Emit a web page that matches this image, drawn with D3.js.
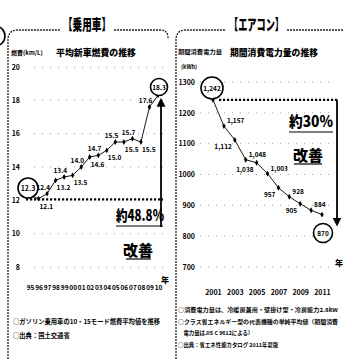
<!DOCTYPE html>
<html><head><meta charset="utf-8">
<script src="https://cdn.jsdelivr.net/npm/d3@7"></script>
<style>
body{margin:0;background:#fff}
svg{display:block}
text{font-family:"Noto Sans CJK JP","Noto Sans",sans-serif;fill:#000}
</style>
</head><body>
<svg id="chart" width="344" height="359"></svg>
<script>
// 乗用車：平均新車燃費（km/L）
const carYears = ["95","96","97","98","99","00","01","02","03","04","05","06","07","08","09","10"];
const carFuel  = [12.3,12.1,12.4,13.2,13.4,13.5,14.0,14.6,14.7,15.0,15.5,15.5,15.7,15.5,17.6,18.3];
const carTicks = [8,10,12,14,16,18,20];

// エアコン：期間消費電力量（kWh）
const acYears  = [2001,2002,2003,2004,2005,2006,2007,2008,2009,2010,2011];
const acPower  = [1242,1157,1112,1048,1038,1003,957,928,905,884,870];
const acTicks  = [700,800,900,1000,1100,1200,1300];
const acYearLabels = [2001,2003,2005,2007,2009,2011];

const carNotes = ["○ガソリン乗用車の10・15モード燃費平均値を推移","○出典：国土交通省"];
const acNotes  = ["○消費電力量は、冷暖房兼用・壁掛け型・冷房能力2.8kW","○クラス省エネルギー型の代表機種の単純平均値（期間消費","　電力量はJIS C 9612による）","○出典：省エネ性能カタログ 2011年夏版"];

const svg = d3.select("#chart");
const fmt = d3.format(",");

// arrow heads
const defs = svg.append("defs");
defs.append("marker").attr("id","arr").attr("viewBox","0 0 10 10")
  .attr("refX",5).attr("refY",5).attr("markerWidth",5).attr("markerHeight",5)
  .attr("orient","auto-start-reverse")
  .append("path").attr("d","M0,0L10,5L0,10z").attr("fill","#000");

// ---------- panel frames ----------
function frame(g, x0, x1, titleX0, titleX1, title){
  g.append("path")
    .attr("d",`M${x0},359 L${x0},40 Q${x0},30 ${x0+10},30 L${titleX0},30 M${titleX1},30 L${x1-8},30 Q${x1},30 ${x1},38`)
    .attr("fill","none").attr("stroke","#222").attr("stroke-width",1.3).attr("stroke-dasharray","2,1");
  g.append("text").attr("x",(titleX0+titleX1)/2).attr("y",30)
    .attr("text-anchor","middle").attr("font-size",15).attr("font-weight",900)
    .attr("textLength",titleX1-titleX0-6).attr("lengthAdjust","spacingAndGlyphs")
    .text(title);
}
frame(svg, 8, 168, 60, 114, "【乗用車】");
frame(svg, 176, 352, 226, 287, "【エアコン】");
svg.append("circle").attr("cx",-5).attr("cy",36).attr("r",10)
  .attr("fill","none").attr("stroke","#000").attr("stroke-width",1.6);

// ---------- 乗用車 ----------
const cx = d3.scalePoint().domain(carYears).range([30,158]);
const cy = d3.scaleLinear().domain([8,20]).range([267,67]);

svg.append("text").attr("x",11).attr("y",55).attr("font-size",6).attr("font-weight",700).text("燃費(km/L)");
svg.append("text").attr("x",56).attr("y",56).attr("font-size",9).attr("font-weight",900)
  .attr("textLength",80).attr("lengthAdjust","spacingAndGlyphs").text("平均新車燃費の推移");

const cg = svg.append("g");
cg.selectAll("line.grid").data(carTicks).join("line").attr("class","grid")
  .attr("x1",34).attr("x2",166).attr("y1",d=>cy(d)).attr("y2",d=>cy(d))
  .attr("stroke","#888").attr("stroke-width",0.8).attr("stroke-dasharray","1,7");
const cAxis = cg.append("g").attr("transform","translate(22,0)")
  .call(d3.axisLeft(cy).tickValues(carTicks).tickSize(0).tickPadding(2));
cAxis.select(".domain").remove();
cAxis.selectAll("text").attr("font-size",7).attr("font-weight",700);

const cxAxis = cg.append("g").attr("transform","translate(0,282)")
  .call(d3.axisBottom(cx).tickSize(0).tickPadding(3));
cxAxis.select(".domain").remove();
cxAxis.selectAll("text").attr("font-size",6.5).attr("font-weight",700);
cg.append("text").attr("x",161).attr("y",283).attr("font-size",8).attr("font-weight",900).text("年");

// reference line and arrow
const c0 = carFuel[0], cN = carFuel[carFuel.length-1];
cg.append("line").attr("x1",cx(carYears[0])-4).attr("x2",163).attr("y1",cy(c0)+4).attr("y2",cy(c0)+4)
  .attr("stroke","#000").attr("stroke-width",2.4).attr("stroke-dasharray","2.2,1.8");
cg.append("line").attr("x1",161).attr("x2",161).attr("y1",227).attr("y2",cy(cN)+7)
  .attr("stroke","#000").attr("stroke-width",1.8).attr("marker-end","url(#arr)");

cg.append("path").datum(carFuel)
  .attr("d",d3.line().x((d,i)=>cx(carYears[i])).y(d=>cy(d)))
  .attr("fill","none").attr("stroke","#000").attr("stroke-width",0.9);
cg.selectAll("path.mk").data(carFuel).join("path").attr("class","mk")
  .attr("transform",(d,i)=>`translate(${cx(carYears[i])},${cy(d)})`)
  .attr("d",d3.symbol(d3.symbolDiamond,10)).attr("fill","#000");

// value labels: odd points below-right, even points above-left
cg.selectAll("text.val").data(carFuel.slice(1,-1)).join("text").attr("class","val")
  .attr("x",(d,i)=>cx(carYears[i+1]) + ((i+1)%2 ? 1 : 3))
  .attr("y",(d,i)=>cy(d) + ((i+1)%2 ? 10 : -4))
  .attr("text-anchor",(d,i)=>(i+1)%2 ? "start" : "end")
  .attr("font-size",6.5).attr("font-weight",700).text(d=>d.toFixed(1));

// circled start / end values
cg.append("circle").attr("cx",28).attr("cy",188).attr("r",10).attr("fill","#fff").attr("stroke","#000").attr("stroke-width",1.6);
cg.append("text").attr("x",28).attr("y",190.5).attr("text-anchor","middle").attr("font-size",7).attr("font-weight",700).text(c0.toFixed(1));
cg.append("circle").attr("cx",159).attr("cy",87).attr("r",8.5).attr("fill","#fff").attr("stroke","#000").attr("stroke-width",1.6);
cg.append("text").attr("x",159).attr("y",89.5).attr("text-anchor","middle").attr("font-size",6.5).attr("font-weight",700).text(cN.toFixed(1));

const carRate = d3.format(".1%")(cN/c0-1);
cg.append("text").attr("x",116).attr("y",221).attr("font-size",15).attr("font-weight",900)
  .attr("textLength",48).attr("lengthAdjust","spacingAndGlyphs").text("約"+carRate);
cg.append("line").attr("x1",116).attr("x2",163).attr("y1",226).attr("y2",226).attr("stroke","#000").attr("stroke-width",1.2);
cg.append("text").attr("x",138).attr("y",256).attr("text-anchor","middle").attr("font-size",15).attr("font-weight",900).text("改善");
cg.append("line").attr("x1",126).attr("x2",151).attr("y1",259).attr("y2",259).attr("stroke","#000").attr("stroke-width",1.2);

cg.selectAll("text.note").data(carNotes).join("text").attr("class","note")
  .attr("x",13).attr("y",(d,i)=>324+i*14).attr("font-size",6.3).attr("font-weight",700).text(d=>d);

// ---------- エアコン ----------
const ax = d3.scaleLinear().domain([acYears[0],acYears[acYears.length-1]]).range([213,322]);
const ay = d3.scaleLinear().domain([700,1300]).range([267,82]);

svg.append("text").attr("x",178).attr("y",54).attr("font-size",5.5).attr("font-weight",700)
  .attr("textLength",44).attr("lengthAdjust","spacingAndGlyphs").text("期間消費電力量");
svg.append("text").attr("x",181).attr("y",69).attr("font-size",5.5).attr("font-weight",700).text("(kWh)");
svg.append("text").attr("x",230).attr("y",56).attr("font-size",9).attr("font-weight",900)
  .attr("textLength",88).attr("lengthAdjust","spacingAndGlyphs").text("期間消費電力量の推移");

const ag = svg.append("g");
ag.selectAll("line.grid").data(acTicks).join("line").attr("class","grid")
  .attr("x1",200).attr("x2",335).attr("y1",d=>ay(d)).attr("y2",d=>ay(d))
  .attr("stroke","#888").attr("stroke-width",0.8).attr("stroke-dasharray","1,7");
const aAxis = ag.append("g").attr("transform","translate(197,0)")
  .call(d3.axisLeft(ay).tickValues(acTicks).tickSize(0).tickPadding(2).tickFormat(d3.format("d")));
aAxis.select(".domain").remove();
aAxis.selectAll("text").attr("font-size",7).attr("font-weight",700);

const axAxis = ag.append("g").attr("transform","translate(0,287)")
  .call(d3.axisBottom(ax).tickValues(acYearLabels).tickSize(0).tickPadding(3).tickFormat(d3.format("d")));
axAxis.select(".domain").remove();
axAxis.selectAll("text").attr("font-size",7).attr("font-weight",700);
ag.append("text").attr("x",335).attr("y",266).attr("font-size",8).attr("font-weight",900).text("年");

const a0 = acPower[0], aN = acPower[acPower.length-1];
ag.append("line").attr("x1",ax(acYears[0])+6).attr("x2",338).attr("y1",ay(a0)).attr("y2",ay(a0))
  .attr("stroke","#000").attr("stroke-width",2.4).attr("stroke-dasharray","2.2,1.8");
ag.append("line").attr("x1",337).attr("x2",337).attr("y1",ay(a0)).attr("y2",222)
  .attr("stroke","#000").attr("stroke-width",1.8).attr("marker-end","url(#arr)");

ag.append("path").datum(acPower)
  .attr("d",d3.line().x((d,i)=>ax(acYears[i])).y(d=>ay(d)))
  .attr("fill","none").attr("stroke","#000").attr("stroke-width",0.9);
ag.selectAll("path.mk").data(acPower).join("path").attr("class","mk")
  .attr("transform",(d,i)=>`translate(${ax(acYears[i])},${ay(d)})`)
  .attr("d",d3.symbol(d3.symbolDiamond,10)).attr("fill","#000");

ag.selectAll("text.val").data(acPower.slice(1,-1)).join("text").attr("class","val")
  .attr("x",(d,i)=>ax(acYears[i+1]) + ((i+1)%2 ? 3 : -3))
  .attr("y",(d,i)=>ay(d) + ((i+1)%2 ? -3 : 9))
  .attr("text-anchor",(d,i)=>(i+1)%2 ? "start" : "end")
  .attr("font-size",6.5).attr("font-weight",700).text(d=>fmt(d));

ag.append("circle").attr("cx",212).attr("cy",88).attr("r",11).attr("fill","#fff").attr("stroke","#000").attr("stroke-width",1.6);
ag.append("text").attr("x",212).attr("y",90.5).attr("text-anchor","middle").attr("font-size",6.5).attr("font-weight",700).text(fmt(a0));
ag.append("circle").attr("cx",323).attr("cy",233).attr("r",9.5).attr("fill","#fff").attr("stroke","#000").attr("stroke-width",1.6);
ag.append("text").attr("x",323).attr("y",235.5).attr("text-anchor","middle").attr("font-size",6.5).attr("font-weight",700).text(fmt(aN));

const acRate = d3.format(".0%")(1-aN/a0);
ag.append("text").attr("x",289).attr("y",127).attr("font-size",15).attr("font-weight",900)
  .attr("textLength",44).attr("lengthAdjust","spacingAndGlyphs").text("約"+acRate);
ag.append("line").attr("x1",289).attr("x2",333).attr("y1",132).attr("y2",132).attr("stroke","#000").attr("stroke-width",1.2);
ag.append("text").attr("x",308).attr("y",161).attr("text-anchor","middle").attr("font-size",15).attr("font-weight",900).text("改善");
ag.append("line").attr("x1",294).attr("x2",322).attr("y1",164).attr("y2",164).attr("stroke","#000").attr("stroke-width",1.2);

ag.selectAll("text.note").data(acNotes).join("text").attr("class","note")
  .attr("x",178).attr("y",(d,i)=>312+i*11.5).attr("font-size",5.4).attr("font-weight",700)
  .each(function(d,i){ if(i<2) d3.select(this).attr("textLength",160).attr("lengthAdjust","spacingAndGlyphs"); })
  .text(d=>d);
</script>
</body></html>
